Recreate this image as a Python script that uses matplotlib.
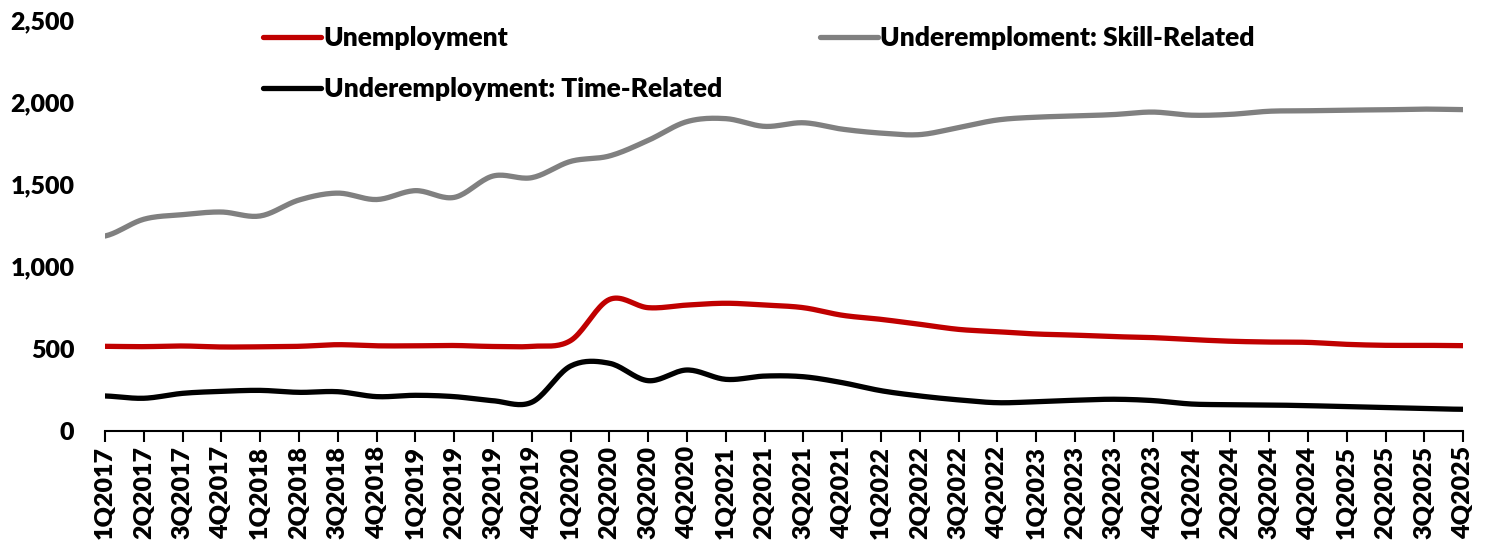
import numpy as np
import matplotlib.pyplot as plt
from matplotlib.ticker import FuncFormatter

quarters = [f"{q}Q{y}" for y in range(2017, 2026) for q in range(1, 5)]

unemployment = [515, 513, 517, 511, 512, 515, 525, 518, 518, 520, 514, 515,
                550, 800, 750, 766, 777, 766, 750, 704, 679, 649, 618, 604,
                590, 583, 574, 568, 556, 546, 541, 539, 527, 521, 521, 519]
skill_related = [1186, 1288, 1316, 1332, 1308, 1405, 1447, 1408, 1462, 1421, 1551, 1541,
                 1640, 1673, 1768, 1882, 1900, 1853, 1875, 1836, 1812, 1803, 1846, 1892,
                 1909, 1916, 1925, 1940, 1921, 1926, 1945, 1948, 1952, 1954, 1958, 1955]
time_related = [213, 199, 229, 241, 247, 235, 239, 209, 217, 209, 184, 175,
                395, 412, 306, 371, 314, 334, 330, 294, 245, 213, 189, 172,
                178, 187, 193, 185, 164, 160, 158, 154, 148, 142, 136, 132]

series = [
    ("Unemployment", unemployment, "#C00000"),
    ("Underemployment: Time-Related", time_related, "#000000"),
    ("Underemploment: Skill-Related", skill_related, "#808080"),
]


def smooth(y, n=20):
    # Catmull-Rom style smoothing, same as a spreadsheet "smoothed line"
    y = np.asarray(y, dtype=float)
    p = np.concatenate([[y[0]], y, [y[-1]]])
    xs, ys = [], []
    t = np.linspace(0, 1, n, endpoint=False)
    for i in range(len(y) - 1):
        p0, p1, p2, p3 = p[i], p[i + 1], p[i + 2], p[i + 3]
        seg = 0.5 * ((2 * p1) + (-p0 + p2) * t + (2 * p0 - 5 * p1 + 4 * p2 - p3) * t ** 2
                     + (-p0 + 3 * p1 - 3 * p2 + p3) * t ** 3)
        xs.append(i + t)
        ys.append(seg)
    xs.append([len(y) - 1])
    ys.append([y[-1]])
    return np.concatenate(xs), np.concatenate(ys)


plt.rcParams['font.family'] = ['Lato', 'DejaVu Sans']
plt.rcParams['font.weight'] = 'heavy'

fig = plt.figure(figsize=(14.93, 5.5), dpi=100)
ax = fig.add_axes([0.0703, 0.2164, 0.9097, 0.7472])

for label, values, color in series:
    sx, sy = smooth(values)
    ax.plot(sx, sy, color=color, lw=3.8, solid_capstyle='round', label=label)

ax.set_xlim(0, len(quarters) - 1)
ax.set_ylim(0, 2500)
ax.set_yticks(range(0, 2501, 500))
ax.yaxis.set_major_formatter(FuncFormatter(lambda v, _: f"{int(v):,}"))
ax.set_xticks(range(len(quarters)))
ax.set_xticklabels(quarters, rotation=90)

for side in ("top", "right", "left"):
    ax.spines[side].set_visible(False)
ax.spines["bottom"].set_linewidth(1.5)
ax.tick_params(axis="y", length=0, pad=22, labelsize=18)
ax.tick_params(axis="x", length=8, width=1.5, direction="out", pad=3, labelsize=18)

ax.legend(loc="upper left", bbox_to_anchor=(0.1086, 1.01), ncol=2, frameon=False,
          fontsize=19, handlelength=2.2, handletextpad=0.1, columnspacing=3.7,
          labelspacing=1.02, borderaxespad=0)

fig.savefig("out.png", dpi=100)
